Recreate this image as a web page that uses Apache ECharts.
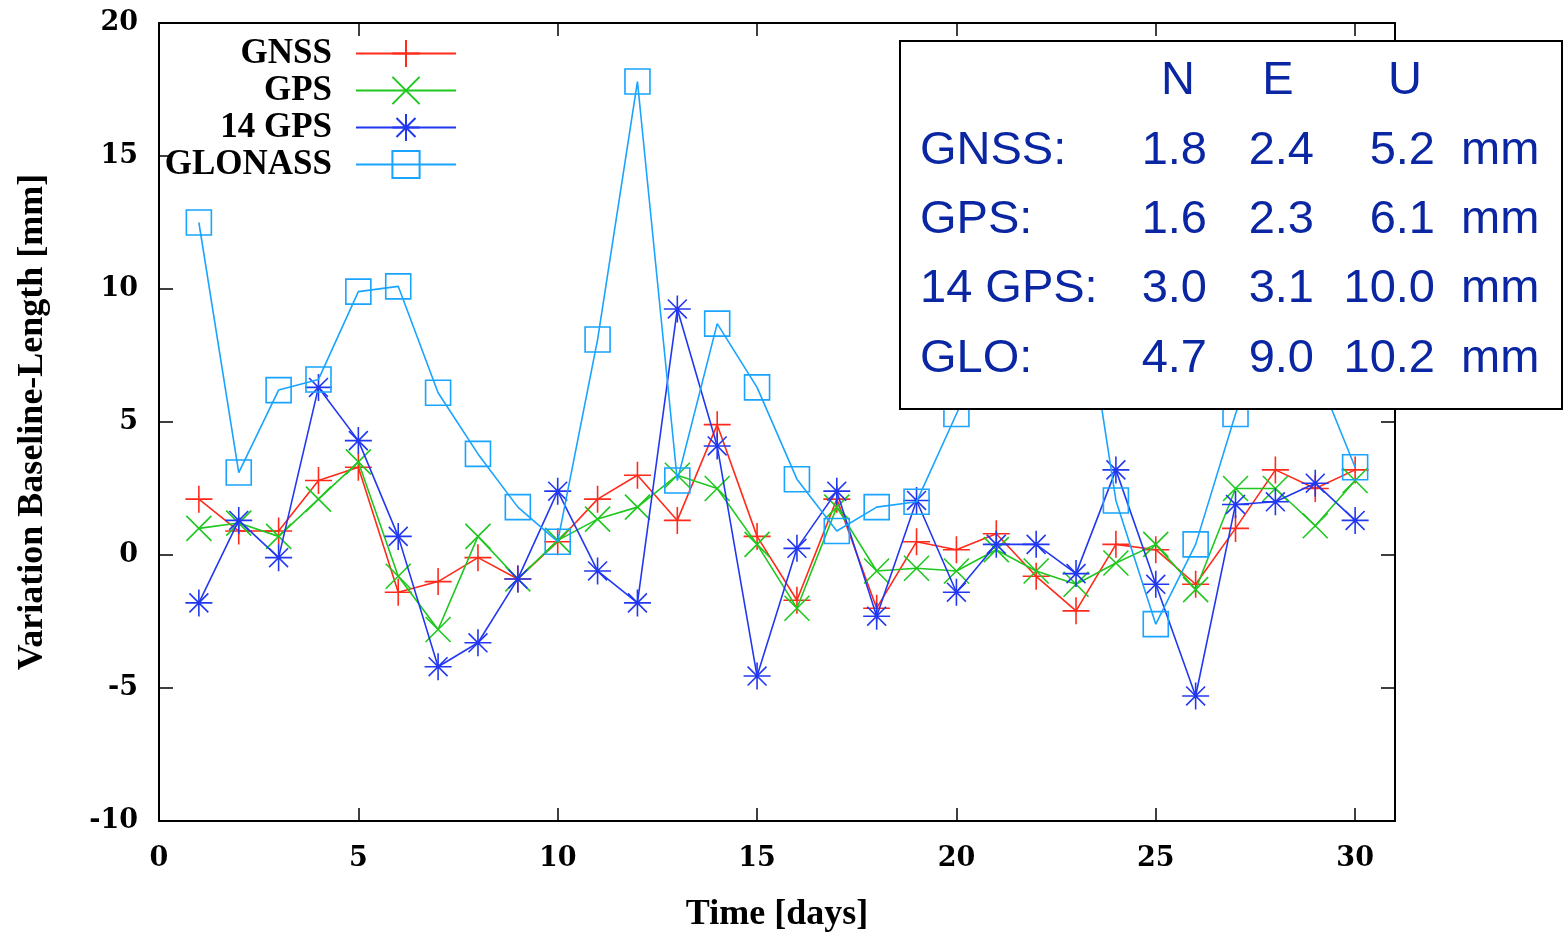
<!DOCTYPE html>
<html><head><meta charset="utf-8">
<script src="https://cdn.jsdelivr.net/npm/echarts@6/dist/echarts.min.js"></script>
<style>html,body{margin:0;padding:0;background:#fff}#c{width:1563px;height:938px}</style>
</head><body><div id="c"></div>
<script>
// ---- data ----
const days = [1,2,3,4,5,6,7,8,9,10,11,12,13,14,15,16,17,18,19,20,21,22,23,24,25,26,27,28,29,30];
const gnss    = [2.1,0.9,0.9,2.8,3.3,-1.4,-1.0,-0.1,-0.9,0.5,2.1,3.0,1.3,4.9,0.7,-1.7,2.1,-2.0,0.5,0.2,0.8,-0.8,-2.1,0.4,0.2,-1.1,1.0,3.2,2.5,3.2];
const gps     = [1.0,1.2,0.7,2.1,3.5,-0.8,-2.8,0.7,-0.9,0.55,1.35,1.8,3.0,2.5,0.4,-2.0,1.8,-0.6,-0.5,-0.6,0.2,-0.6,-1.1,-0.3,0.4,-1.3,2.5,2.5,1.1,2.8];
const gps14   = [-1.8,1.3,-0.1,6.3,4.3,0.7,-4.2,-3.3,-0.9,2.4,-0.6,-1.8,9.25,4.1,-4.55,0.25,2.4,-2.3,2.05,-1.4,0.4,0.4,-0.7,3.2,-1.1,-5.3,1.9,2.0,2.7,1.3];
const glonass = [12.5,3.1,6.2,6.6,9.9,10.1,6.1,3.8,1.8,0.5,8.1,17.8,2.8,8.7,6.3,2.85,0.9,1.8,2.0,5.3,8.6,11.0,11.8,2.05,-2.6,0.4,5.3,9.5,7.0,3.3];
const seriesNames = ['GNSS','GPS','14 GPS','GLONASS'];
const xTicks = [0,5,10,15,20,25,30];
const yTicks = [-10,-5,0,5,10,15,20];
// info table
const tableHeader = ['N','E','U'];
const rowLabels = ['GNSS:','GPS:','14 GPS:','GLO:'];
const colN = ['1.8','1.6','3.0','4.7'];
const colE = ['2.4','2.3','3.1','9.0'];
const colU = ['5.2','6.1','10.0','10.2'];
const unit = 'mm';

// ---- styles ----
const colors = ['#ff2a1a','#1ec81e','#2238f0','#18a4ff'];
const symbols = [
  'path://M0,5L10,5M5,0L5,10',
  'path://M0,0L10,10M10,0L0,10',
  'path://M0,5L10,5M5,0L5,10M1.5,1.5L8.5,8.5M8.5,1.5L1.5,8.5',
  'path://M0,0L10,0L10,10L0,10Z'
];
const symSizes = [27, 25, 27, 25];
const allData = [gnss, gps, gps14, glonass];
const serif = 'Liberation Serif';

const series = allData.map((vals, i) => ({
  name: seriesNames[i],
  type: 'line',
  data: days.map((d, k) => [d, vals[k]]),
  symbol: symbols[i],
  symbolSize: symSizes[i],
  showAllSymbol: true,
  lineStyle: { color: colors[i], width: 1.6 },
  itemStyle: { color: 'none', borderColor: colors[i], borderWidth: 1.6 },
  emphasis: { disabled: true },
  animation: false,
  z: 2 + i
}));

const legH = 34;
const legends = seriesNames.map((n, i) => ({
  data: [n],
  top: 53 + 37 * i - legH / 2,
  right: 1563 - 457,
  orient: 'vertical',
  align: 'right',
  padding: 0,
  itemWidth: 100,
  itemHeight: legH,
  selectedMode: false,
  textStyle: { fontFamily: serif, fontWeight: 'bold', fontSize: 35, color: '#000', padding: [0, 19, 0, 0] }
}));

const tStyle = { fontFamily: 'Liberation Sans', fontSize: 47, fill: '#0a26a2' };
const graphics = [{
  type: 'rect', z: 100, shape: { x: 900, y: 41, width: 662, height: 368 },
  style: { fill: '#fff', stroke: '#000', lineWidth: 2 }
}];
const hdrX = [1178, 1278, 1405];
tableHeader.forEach((h, i) => graphics.push({ type: 'text', z: 101, x: hdrX[i], y: 81,
  style: Object.assign({ text: h, textAlign: 'center', textVerticalAlign: 'middle' }, tStyle) }));
const rowY = [151, 220, 289, 359];
rowLabels.forEach((lab, r) => {
  const y = rowY[r];
  graphics.push({ type: 'text', z: 101, x: 920, y, style: Object.assign({ text: lab, textAlign: 'left', textVerticalAlign: 'middle' }, tStyle) });
  graphics.push({ type: 'text', z: 101, x: 1207, y, style: Object.assign({ text: colN[r], textAlign: 'right', textVerticalAlign: 'middle' }, tStyle) });
  graphics.push({ type: 'text', z: 101, x: 1314, y, style: Object.assign({ text: colE[r], textAlign: 'right', textVerticalAlign: 'middle' }, tStyle) });
  graphics.push({ type: 'text', z: 101, x: 1435, y, style: Object.assign({ text: colU[r], textAlign: 'right', textVerticalAlign: 'middle' }, tStyle) });
  graphics.push({ type: 'text', z: 101, x: 1461, y, style: Object.assign({ text: unit, textAlign: 'left', textVerticalAlign: 'middle' }, tStyle) });
});

const axLine = { show: true, onZero: false, lineStyle: { color: '#000', width: 2 } };
const tickStyle = { lineStyle: { color: '#000', width: 1.5 } };
const labStyle = { fontFamily: 'DejaVu Serif', fontWeight: 'bold', fontSize: 27, color: '#000' };
const nameStyle = { fontFamily: serif, fontWeight: 'bold', fontSize: 36, color: '#000' };

const option = {
  backgroundColor: '#fff',
  animation: false,
  grid: { left: 159, right: 1563 - 1395, top: 23, bottom: 938 - 826, containLabel: false },
  legend: legends,
  xAxis: [{
    type: 'value', position: 'bottom', min: 0, max: 31, interval: 5,
    name: 'Time [days]', nameLocation: 'middle', nameGap: 76,
    nameTextStyle: nameStyle,
    axisLine: axLine,
    axisTick: Object.assign({ inside: true, length: 13, customValues: xTicks }, tickStyle),
    axisLabel: Object.assign({ margin: 24, customValues: xTicks }, labStyle),
    splitLine: { show: false }
  }, {
    type: 'value', position: 'top', min: 0, max: 31, interval: 5,
    axisLine: axLine,
    axisTick: Object.assign({ inside: true, length: 13, customValues: xTicks }, tickStyle),
    axisLabel: { show: false },
    splitLine: { show: false }
  }],
  yAxis: [{
    type: 'value', position: 'left', min: -10, max: 20, interval: 5,
    name: 'Variation Baseline-Length [mm]', nameLocation: 'middle', nameGap: 108,
    nameTextStyle: nameStyle,
    axisLine: axLine,
    axisTick: Object.assign({ inside: true, length: 14, customValues: yTicks }, tickStyle),
    axisLabel: Object.assign({ margin: 21, customValues: yTicks }, labStyle),
    splitLine: { show: false }
  }, {
    type: 'value', position: 'right', min: -10, max: 20, interval: 5,
    axisLine: axLine,
    axisTick: Object.assign({ inside: true, length: 14, customValues: yTicks }, tickStyle),
    axisLabel: { show: false },
    splitLine: { show: false }
  }],
  series: series,
  graphic: graphics
};
const chart = echarts.init(document.getElementById('c'), null, { renderer: 'canvas' });
chart.setOption(option);
</script>
</body></html>
